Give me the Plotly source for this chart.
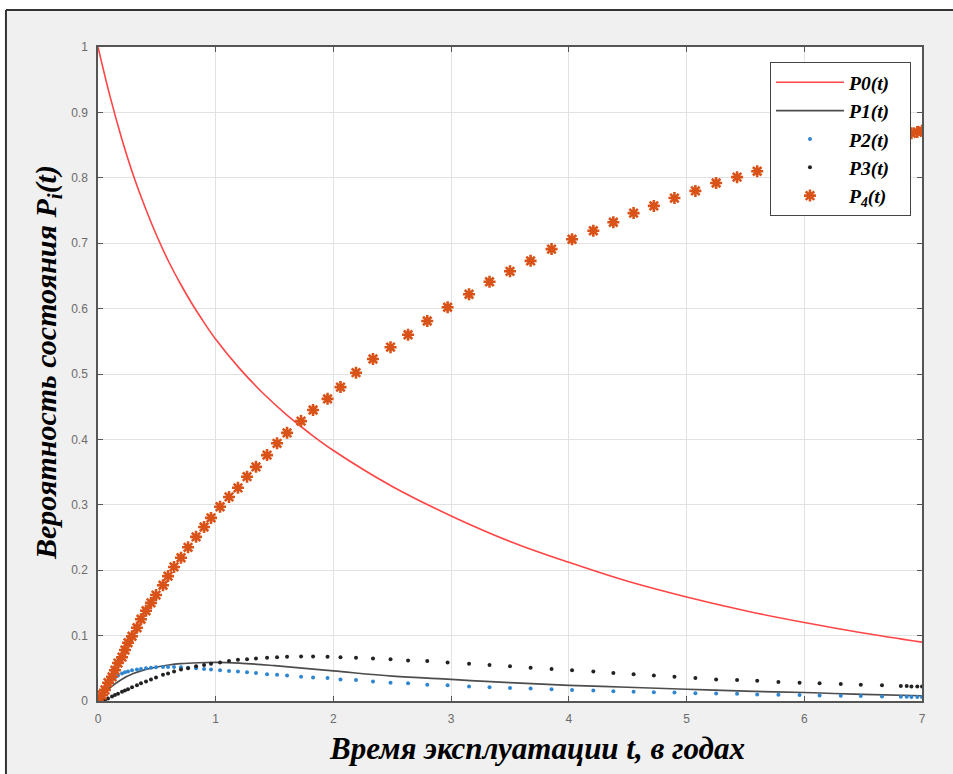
import plotly.graph_objects as go

# ---- time points of the ODE solution (markers of P2, P3, P4) ----
t = [0, 0.034, 0.059, 0.085, 0.119, 0.144, 0.170, 0.204, 0.229, 0.255, 0.289, 0.331,
     0.365, 0.408, 0.450, 0.493, 0.552, 0.595, 0.646, 0.705, 0.765, 0.833, 0.901, 0.960,
     1.037, 1.113, 1.189, 1.266, 1.342, 1.436, 1.521, 1.606, 1.725, 1.827, 1.950, 2.060,
     2.192, 2.336, 2.485, 2.634, 2.797, 2.970, 3.152, 3.326, 3.500, 3.675, 3.853, 4.027,
     4.208, 4.378, 4.550, 4.722, 4.897, 5.075, 5.251, 5.429, 5.600, 5.780, 5.960, 6.130,
     6.310, 6.480, 6.660, 6.820, 6.870, 6.910, 6.960, 7.000]

p2 = [0, 0.012, 0.020, 0.027, 0.033, 0.036, 0.039, 0.042, 0.044, 0.045, 0.047, 0.048,
      0.049, 0.050, 0.051, 0.0515, 0.052, 0.052, 0.052, 0.0515, 0.051, 0.050, 0.049, 0.048,
      0.047, 0.046, 0.045, 0.044, 0.043, 0.041, 0.040, 0.039, 0.037, 0.036, 0.035, 0.033,
      0.032, 0.030, 0.028, 0.027, 0.025, 0.024, 0.022, 0.021, 0.020, 0.019, 0.018, 0.017,
      0.016, 0.015, 0.014, 0.0135, 0.013, 0.012, 0.0115, 0.011, 0.010, 0.0095, 0.009, 0.0085,
      0.008, 0.0075, 0.007, 0.0065, 0.0065, 0.0063, 0.0062, 0.006]

p3 = [0, 0.001, 0.002, 0.004, 0.007, 0.009, 0.011, 0.014, 0.016, 0.018, 0.021, 0.024,
      0.027, 0.030, 0.033, 0.036, 0.040, 0.042, 0.045, 0.048, 0.050, 0.053, 0.055, 0.057,
      0.059, 0.061, 0.063, 0.064, 0.065, 0.066, 0.067, 0.0675, 0.068, 0.068, 0.0675, 0.067,
      0.066, 0.065, 0.064, 0.062, 0.061, 0.059, 0.057, 0.055, 0.053, 0.051, 0.049, 0.047,
      0.045, 0.043, 0.041, 0.039, 0.037, 0.035, 0.033, 0.032, 0.031, 0.029, 0.028, 0.027,
      0.026, 0.025, 0.024, 0.023, 0.023, 0.022, 0.022, 0.022]

p4 = [0, 0.009, 0.017, 0.028, 0.037, 0.047, 0.058, 0.067, 0.078, 0.089, 0.099, 0.112,
      0.125, 0.138, 0.150, 0.162, 0.177, 0.191, 0.205, 0.219, 0.235, 0.251, 0.266, 0.280,
      0.297, 0.312, 0.326, 0.343, 0.358, 0.376, 0.394, 0.410, 0.428, 0.445, 0.462, 0.480,
      0.502, 0.523, 0.541, 0.560, 0.581, 0.602, 0.622, 0.641, 0.657, 0.673, 0.691, 0.706,
      0.719, 0.732, 0.746, 0.757, 0.769, 0.780, 0.792, 0.801, 0.810, 0.819, 0.828, 0.836,
      0.844, 0.851, 0.858, 0.864, 0.866, 0.868, 0.870, 0.872]

# ---- solid curves ----
t0 = [0, 0.1, 0.2, 0.3, 0.4, 0.5, 0.6, 0.7, 0.8, 0.9, 1.0, 1.2, 1.4, 1.6, 1.8, 2.0,
      2.5, 3.0, 3.5, 4.0, 4.5, 5.0, 5.5, 6.0, 6.5, 7.0]
p0 = [1.0, 0.926, 0.861, 0.804, 0.755, 0.711, 0.672, 0.638, 0.607, 0.579, 0.553,
      0.509, 0.471, 0.438, 0.409, 0.383, 0.328, 0.283, 0.244, 0.212, 0.183, 0.159,
      0.138, 0.120, 0.104, 0.090]

t1 = [0, 0.05, 0.1, 0.2, 0.3, 0.4, 0.5, 0.6, 0.7, 0.85, 1.0, 1.2, 1.5, 2.0, 2.5, 3.0,
      3.5, 4.0, 4.5, 5.0, 5.5, 6.0, 6.5, 7.0]
p1 = [0, 0.011, 0.020, 0.033, 0.042, 0.048, 0.052, 0.055, 0.057, 0.0585, 0.059, 0.058,
      0.054, 0.046, 0.038, 0.033, 0.028, 0.024, 0.021, 0.018, 0.015, 0.013, 0.010, 0.008]

pad = "\u00a0\u00a0\u00a0"
series_names = ["P0(t)" + pad, "P1(t)" + pad, "P2(t)" + pad, "P3(t)" + pad,
                "P<sub>4</sub>(t)" + pad]
x_ticks = [0, 1, 2, 3, 4, 5, 6, 7]
y_ticks = [0, 0.1, 0.2, 0.3, 0.4, 0.5, 0.6, 0.7, 0.8, 0.9, 1]
y_tick_labels = ["0", "0.1", "0.2", "0.3", "0.4", "0.5", "0.6", "0.7", "0.8", "0.9", "1"]

x_title = "Время эксплуатации t, в годах"
y_title = "Вероятность состояния P<sub>i</sub>(t)"

fig = go.Figure()
fig.add_trace(go.Scatter(x=t0, y=p0, mode="lines", name=series_names[0],
                         line=dict(color="#ff4545", width=1.6, shape="spline")))
fig.add_trace(go.Scatter(x=t1, y=p1, mode="lines", name=series_names[1],
                         line=dict(color="#4d4d4d", width=1.7, shape="spline")))
fig.add_trace(go.Scatter(x=t, y=p2, mode="markers", name=series_names[2],
                         marker=dict(color="#2f86d0", size=4, symbol="circle")))
fig.add_trace(go.Scatter(x=t, y=p3, mode="markers", name=series_names[3],
                         marker=dict(color="#222222", size=4, symbol="circle")))
fig.add_trace(go.Scatter(x=t, y=p4, mode="markers", name=series_names[4],
                         marker=dict(color="#d95319", size=10, symbol="asterisk-open",
                                     line=dict(color="#d95319", width=2.6))))

axis_common = dict(
    showline=True, linecolor="#555555", linewidth=1.5, mirror="allticks",
    ticks="inside", ticklen=5, tickcolor="#555555", tickwidth=1,
    showgrid=True, gridcolor="#e2e2e2", gridwidth=1, zeroline=False,
    tickfont=dict(family="Liberation Sans, Arial, sans-serif", size=12, color="#6b6b6b"),
)

# full-window figure (page margin removed by the post script below)
fig.update_layout(
    width=953, height=774, autosize=False,
    margin=dict(l=98, r=31, t=47, b=73, pad=0),
    paper_bgcolor="#f0f0f0", plot_bgcolor="#ffffff",
    xaxis=dict(range=[0, 7], tickvals=x_ticks, ticklabelstandoff=6, **axis_common),
    yaxis=dict(range=[0, 1], tickvals=y_ticks, ticktext=y_tick_labels,
               ticklabelstandoff=6, **axis_common),
    legend=dict(x=0.8155, y=0.977, xanchor="left", yanchor="top",
                bgcolor="#ffffff", bordercolor="#444444", borderwidth=1,
                font=dict(family="Liberation Serif, Times New Roman, serif", size=19.5,
                          color="#000000", weight="bold", style="italic"),
                itemwidth=68),
    showlegend=True,
)

fig.add_annotation(text=x_title, xref="paper", yref="paper", x=0.533, y=-0.072,
                   xanchor="center", yanchor="middle", showarrow=False,
                   font=dict(family="Liberation Serif, Times New Roman, serif", size=31,
                             color="#000000", weight="bold", style="italic"))
fig.add_annotation(text=y_title, xref="paper", yref="paper", x=-0.061, y=0.518,
                   xanchor="center", yanchor="middle", showarrow=False, textangle=-90,
                   font=dict(family="Liberation Serif, Times New Roman, serif", size=30,
                             color="#000000", weight="bold", style="italic"))

# outer figure frame (white strips + dark border)
fig.add_shape(type="rect", xref="paper", yref="paper", x0=-0.2, x1=1.2, y0=1.0566, y1=1.3,
              fillcolor="#ffffff", line=dict(width=0), layer="above")
fig.add_shape(type="rect", xref="paper", yref="paper", x0=-0.2, x1=-0.1117, y0=-0.3, y1=1.3,
              fillcolor="#ffffff", line=dict(width=0), layer="above")
fig.add_shape(type="line", xref="paper", yref="paper", x0=-0.1117, x1=1.2, y0=1.0566, y1=1.0566,
              line=dict(color="#333333", width=2), layer="above")
fig.add_shape(type="line", xref="paper", yref="paper", x0=-0.1117, x1=-0.1117, y0=-0.3, y1=1.0566,
              line=dict(color="#333333", width=2), layer="above")

fig.write_html(
    "out.html",
    config={"displayModeBar": False},
    post_script="document.body.style.margin='0';"
                "document.documentElement.style.overflow='hidden';"
                "document.body.style.overflow='hidden';",
)
